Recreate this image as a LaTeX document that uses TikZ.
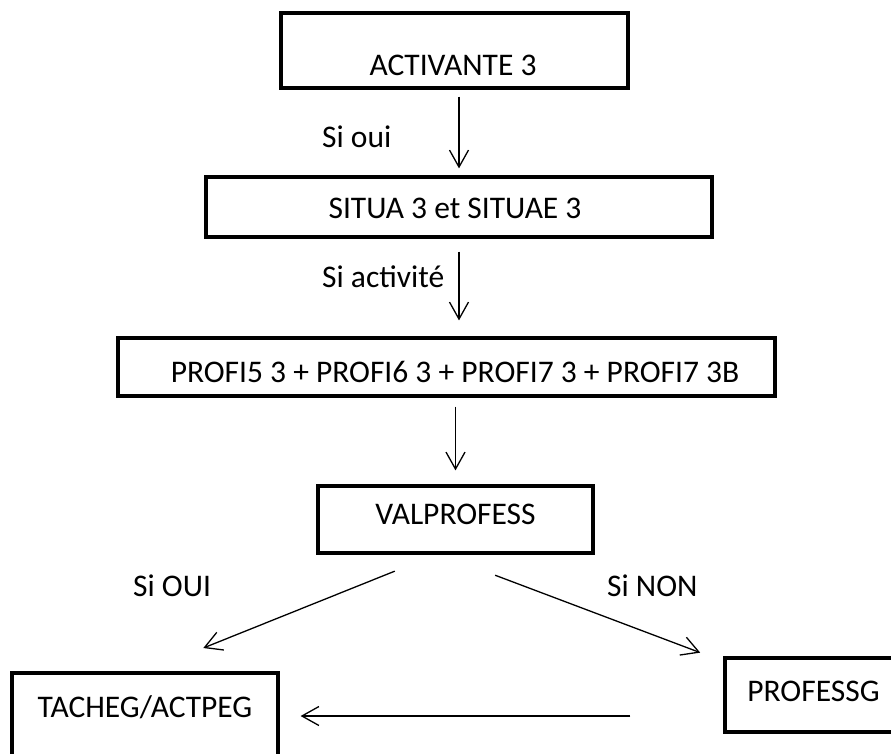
\documentclass[tikz,border=0pt]{standalone}
\usepackage{fontspec}
\setmainfont{Carlito}
\usetikzlibrary{arrows.meta,calc}
\newcommand{\boxtxt}[3]{\raisebox{-#2pt}[0pt][0pt]{\makebox[0pt]{\hspace*{#1pt}\hspace*{#1pt}#3}}}
\tikzset{
  flowbox/.style={draw, line width=3.2pt, inner sep=0pt, font=\fontsize{31.5}{36}\selectfont},
  conn/.style={line width=1.3pt, -{Straight Barb[length=17pt,width=19pt]}},
  lbl/.style={inner sep=0pt, font=\fontsize{31.5}{36}\selectfont}
}
\begin{document}
\begin{tikzpicture}[x=1pt,y=-1pt]
\useasboundingbox (0,0) rectangle (891,753);
\clip (0,0) rectangle (891,753);
\fill[white] (0,0) rectangle (891,753);
\node[flowbox, minimum width=347pt, minimum height=75pt] (act) at (454.5,50.5) {\boxtxt{-1.5}{24.5}{ACTIVANTE 3}};
\node[flowbox, minimum width=506pt, minimum height=60pt] (sit) at (459,207) {\boxtxt{-4}{11}{SITUA 3 et SITUAE 3}};
\node[flowbox, minimum width=657pt, minimum height=58pt] (pro) at (446.5,367) {\boxtxt{8.5}{15}{PROFI5 3 + PROFI6 3 + PROFI7 3 + PROFI7 3B}};
\node[flowbox, minimum width=275pt, minimum height=67pt] (val) at (455.5,519.5) {\boxtxt{0}{4.5}{VALPROFESS}};
\node[flowbox, minimum width=266pt, minimum height=107pt] (tach) at (145,726.5) {\boxtxt{0}{-9.5}{TACHEG/ACTPEG}};
\node[flowbox, minimum width=185pt, minimum height=74pt] (pfg) at (817.5,695) {\boxtxt{-4}{6}{PROFESSG}};

\node[lbl, anchor=base west] (l1) at (322,147) {Si oui};
\node[lbl, anchor=base west] (l2) at (322,287) {Si activité};
\node[lbl, anchor=base west] (l3) at (133,596) {Si OUI};
\node[lbl, anchor=base west] (l4) at (607,596) {Si NON};

\draw[conn, shorten <=7pt, shorten >=7pt] (act.south -| sit.north) -- (sit.north);
\draw[conn, shorten <=13pt, shorten >=16pt] (sit.south) -- (sit.south |- pro.north);
\draw[conn, shorten <=9pt, shorten >=14pt] (val.north |- pro.south) -- (val.north);
\draw[conn, shorten <=44.4pt, shorten >=62.8pt] ([xshift=-19.5pt]val.south) -- (tach.north);
\draw[conn, shorten <=58.4pt, shorten >=120pt] ([xshift=-15pt]val.south) -- ([xshift=-5pt]pfg.center);
\draw[conn, shorten <=93pt, shorten >=21pt] ([yshift=-21pt]pfg.west) -- ([yshift=-21pt]pfg.west -| tach.east);
\end{tikzpicture}
\end{document}
